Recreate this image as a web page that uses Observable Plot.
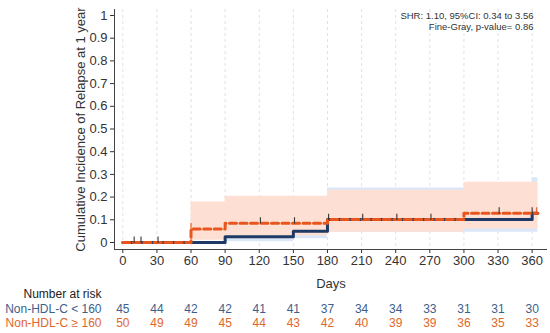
<!DOCTYPE html>
<html>
<head>
<meta charset="utf-8">
<script src="https://cdn.jsdelivr.net/npm/d3@7"></script>
<script src="https://cdn.jsdelivr.net/npm/@observablehq/plot@0.6"></script>
<style>
  html, body { margin: 0; padding: 0; background: #fff; }
</style>
</head>
<body>
<div id="chart"></div>
<script>
// ---- data ----
const xTicks = [0, 30, 60, 90, 120, 150, 180, 210, 240, 270, 300, 330, 360];
const yTicks = [0, 0.1, 0.2, 0.3, 0.4, 0.5, 0.6, 0.7, 0.8, 0.9, 1];

// Non-HDL-C < 160 (solid navy)
const lowDays = [0, 90, 150, 180, 360, 365];
const lowCIF  = [0, 0.025, 0.05, 0.101, 0.129, 0.129];
const lowCIDays = [90, 150, 180, 360, 365];
const lowCILo   = [0.003, 0.017, 0.045, 0.045, 0.045];
const lowCIHi   = [0.15, 0.2, 0.24, 0.285, 0.285];

// Non-HDL-C >= 160 (dashed orange)
const highDays = [0, 60, 90, 180, 300, 365];
const highCIF  = [0, 0.06, 0.085, 0.101, 0.129, 0.129];
const highCIDays = [60, 90, 180, 300, 365];
const highCILo   = [0.01, 0.03, 0.045, 0.06, 0.06];
const highCIHi   = [0.178, 0.204, 0.23, 0.265, 0.265];

// censoring marks
const censorDays  = [10, 16, 31, 60, 121, 151, 181, 211, 241, 271, 331, 360, 364];
const censorCIF   = [0, 0, 0, 0.06, 0.085, 0.085, 0.101, 0.101, 0.101, 0.101, 0.129, 0.129, 0.129];
const censorGroup = ["low", "low", "low", "high", "low", "low", "low", "low", "low", "low", "low", "low", "high"];

// number at risk
const riskDays = xTicks;
const riskLow  = [45, 44, 42, 42, 41, 41, 37, 34, 34, 33, 31, 31, 30];
const riskHigh = [50, 49, 49, 45, 44, 43, 42, 40, 39, 39, 36, 35, 33];
const groupLabels = ["Non-HDL-C < 160", "Non-HDL-C \u2265 160"];

const yLabel = "Cumulative Incidence of Relapse at 1 year";
const xLabel = "Days";
const annot = ["SHR: 1.10, 95%CI: 0.34 to 3.56", "Fine-Gray, p-value= 0.86"];

// ---- styling ----
const navy = "#1f3a64";
const orange = "#e8561e";
const navyText = "#3d5f8b";
const orangeText = "#e0672c";
const font = "Liberation Sans, Arial, Helvetica, sans-serif";
const xDomain = [-7.3, 373.5];
const yDomain = [-0.0308, 1.0264];

const zip = (xs, ys) => xs.map((x, i) => ({x, y: ys[i]}));
const lowLine = zip(lowDays, lowCIF);
const highLine = zip(highDays, highCIF);
const lowBand = lowCIDays.map((x, i) => ({x, lo: lowCILo[i], hi: lowCIHi[i]}));
const highBand = highCIDays.map((x, i) => ({x, lo: highCILo[i], hi: highCIHi[i]}));
const censor = censorDays.map((x, i) => ({x, y: censorCIF[i], g: censorGroup[i]}));
const risk = riskDays.map((x, i) => ({x, low: riskLow[i], high: riskHigh[i]}));

const chart = Plot.plot({
  width: 550,
  height: 333,
  marginLeft: 114,
  marginRight: 3,
  marginTop: 9,
  marginBottom: 84,
  style: {fontFamily: font, fontSize: "13px", color: "#333", background: "#fff"},
  x: {domain: xDomain, ticks: xTicks, tickSize: 4, tickPadding: 2.5, label: null, tickFormat: d => `${d}`},
  y: {domain: yDomain, ticks: yTicks, tickSize: 4, tickPadding: 3, label: null, tickFormat: d => `${d}`},
  marks: [
    Plot.ruleX(xTicks, {stroke: "#d9d9d9", strokeDasharray: "3,3", strokeWidth: 0.8}),
    Plot.areaY(lowBand, {x: "x", y1: "lo", y2: "hi", curve: "step-after", fill: "#dbe7f7"}),
    Plot.areaY(highBand, {x: "x", y1: "lo", y2: "hi", curve: "step-after", fill: "#fde0d3"}),
    Plot.line(lowLine, {x: "x", y: "y", curve: "step-after", stroke: navy, strokeWidth: 3}),
    Plot.line(highLine, {x: "x", y: "y", curve: "step-after", stroke: orange, strokeWidth: 3, strokeDasharray: "7,3.5"}),
    Plot.ruleX(censor, {x: "x", y1: d => d.y - 0.004, y2: d => d.y + 0.024,
      stroke: d => d.g === "high" ? orange : "#333", strokeWidth: 1.1}),
    Plot.ruleX([xDomain[0]], {stroke: "#444", strokeWidth: 1}),
    Plot.ruleY([yDomain[0]], {stroke: "#444", strokeWidth: 1}),
    // axis titles
    Plot.text([yLabel], {text: d => d, frameAnchor: "left", rotate: -90, dx: -34, fontSize: 13, fill: "#333", textAnchor: "middle", lineAnchor: "middle"}),
    Plot.text([xLabel], {text: d => d, frameAnchor: "bottom", dy: 34, fontSize: 13, fill: "#333", textAnchor: "middle", lineAnchor: "middle"}),
    // annotation
    Plot.text([annot[0]], {text: d => d, frameAnchor: "top-right", dx: -14, dy: 6.7, fontSize: 9.5, fill: "#333", textAnchor: "end", lineAnchor: "middle"}),
    Plot.text([annot[1]], {text: d => d, frameAnchor: "top-right", dx: -14, dy: 17.7, fontSize: 9.5, fill: "#333", textAnchor: "end", lineAnchor: "middle"}),
    // risk table
    Plot.text(["Number at risk"], {text: d => d, frameAnchor: "bottom-left", dx: -13, dy: 45, fontSize: 12, fill: "#222", textAnchor: "end", lineAnchor: "middle"}),
    Plot.text([groupLabels[0]], {text: d => d, frameAnchor: "bottom-left", dx: -13, dy: 60, fontSize: 12, fill: navyText, textAnchor: "end", lineAnchor: "middle"}),
    Plot.text([groupLabels[1]], {text: d => d, frameAnchor: "bottom-left", dx: -13, dy: 74, fontSize: 12, fill: orangeText, textAnchor: "end", lineAnchor: "middle"}),
    Plot.text(risk, {x: "x", text: d => `${d.low}`, frameAnchor: "bottom", dy: 60, fontSize: 12, fill: navyText, lineAnchor: "middle"}),
    Plot.text(risk, {x: "x", text: d => `${d.high}`, frameAnchor: "bottom", dy: 74, fontSize: 12, fill: orangeText, lineAnchor: "middle"})
  ]
});
document.getElementById("chart").appendChild(chart);
</script>
</body>
</html>
